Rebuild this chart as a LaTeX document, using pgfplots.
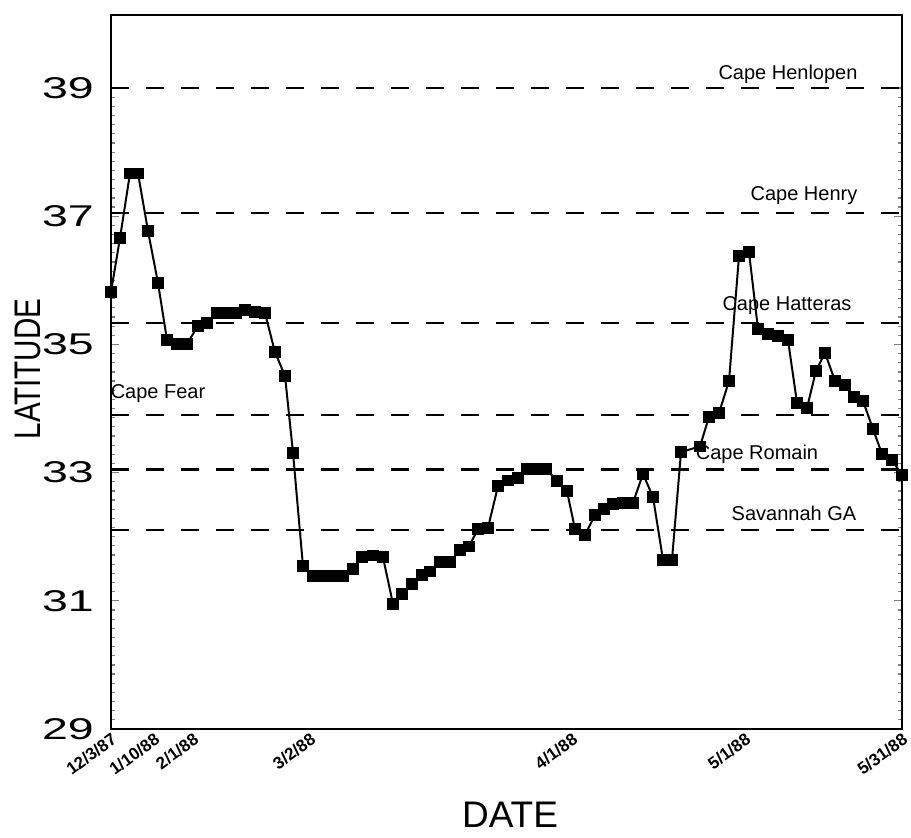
\documentclass[border=0pt]{standalone}
\usepackage{pgfplots}
\pgfplotsset{compat=1.18}
\usepackage{fontspec}
\setmainfont{Liberation Sans}

% Track of positions: observation position along the x axis, latitude in degrees N
\pgfplotstableread{
x   lat
0   35.82
9   36.66
19  37.67
27  37.67
37  36.77
47  35.96
56  35.07
66  35.01
76  35.01
87  35.29
96  35.33
106 35.49
115 35.49
125 35.49
134 35.54
144 35.51
154 35.49
164 34.88
174 34.51
182 33.31
192 31.54
202 31.39
212 31.39
222 31.39
232 31.39
242 31.50
251 31.68
262 31.71
272 31.68
282 30.95
291 31.11
301 31.26
311 31.40
319 31.46
329 31.61
339 31.61
349 31.79
358 31.85
367 32.12
377 32.14
387 32.79
397 32.88
407 32.92
416 33.06
426 33.06
435 33.06
446 32.87
456 32.71
464 32.12
474 32.03
484 32.34
493 32.43
502 32.51
512 32.53
522 32.53
532 32.98
542 32.62
552 31.64
561 31.64
570 33.32
589 33.41
598 33.87
608 33.93
618 34.43
628 36.38
638 36.44
647 35.24
657 35.16
667 35.13
677 35.07
686 34.09
696 34.01
705 34.59
714 34.87
724 34.43
734 34.37
743 34.18
752 34.12
762 33.68
771 33.29
781 33.20
791 32.96
}\track

\begin{document}
\begin{tikzpicture}
\begin{axis}[
  at={(0pt,0pt)}, anchor=south west,
  scale only axis, width=395.5pt, height=357pt,
  xmin=0, xmax=791, ymin=29, ymax=40.14,
  axis line style={line width=1pt},
  /pgf/number format/assume math mode=true,
  ytick={29,31,33,35,37,39},
  minor y tick num=13,
  major tick length=4pt, minor tick length=2pt,
  ytick style={line width=0.6pt},
  yticklabel style={font=\fontsize{15}{16}\selectfont, xscale=1.55, anchor=east, xshift=-2pt},
  xtick={0,43,82,199,461,634,791},
  xticklabels={12/3/87,1/10/88,2/1/88,3/2/88,4/1/88,5/1/88,5/31/88},
  xtick style={draw=none},
  xticklabel style={rotate=36, anchor=north east, inner sep=1pt,
    font=\bfseries\fontsize{8.5}{9}\selectfont},
  clip=false,
]
% reference latitudes of coastal landmarks
\pgfplotsinvokeforeach{39,37.05,35.33,33.9,33.05,32.1}{
  \addplot[black, line width=1.1pt, dash pattern=on 9pt off 8.5pt, forget plot]
    coordinates {(0,#1) (791,#1)};
}
\addplot[black, line width=1pt, mark=square*, mark size=2.4pt,
  mark options={solid}] table[x=x, y=lat] {\track};

\begin{scope}[every node/.style={font=\fontsize{10}{12}\selectfont}]
\node at (axis cs:677,39.22) {Cape Henlopen};
\node at (axis cs:693,37.32) {Cape Henry};
\node at (axis cs:676,35.61) {Cape Hatteras};
\node at (axis cs:47,34.23) {Cape Fear};
\node at (axis cs:646,33.29) {Cape Romain};
\node at (axis cs:683,32.37) {Savannah GA};
\end{scope}
\end{axis}
\node[rotate=90, font=\fontsize{18.5}{20}\selectfont] at (-41.5pt,180pt)
  {\scalebox{0.8}[1]{LATITUDE}};
\node[font=\fontsize{18.5}{20}\selectfont] at (199.5pt,-43pt) {DATE};
\pgfresetboundingbox
\path[use as bounding box] (-55.5pt,-54pt) rectangle (400pt,364.5pt);
\end{tikzpicture}
\end{document}
